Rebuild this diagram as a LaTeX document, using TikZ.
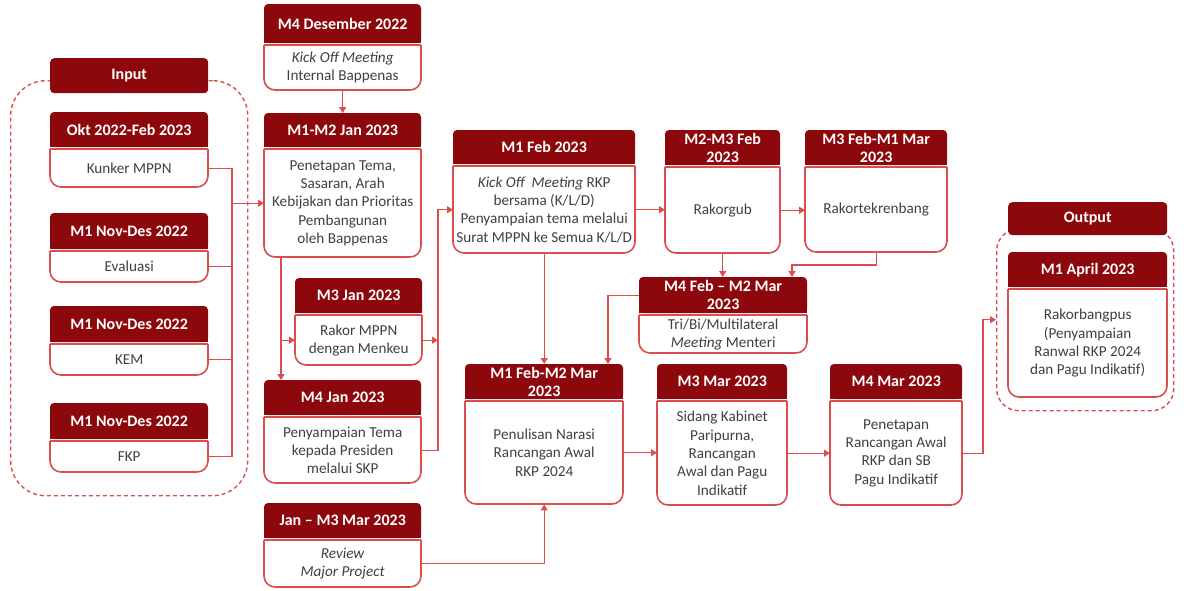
\documentclass[tikz,border=0pt]{standalone}
\usepackage{fontspec}
\setmainfont{Carlito}
\usetikzlibrary{arrows.meta}
\definecolor{hdrred}{RGB}{140,8,12}
\definecolor{lnred}{RGB}{218,78,78}
\definecolor{txtgray}{RGB}{64,64,64}
\tikzset{
  hdrtxt/.style={inner sep=0pt, align=center, text=white,
    font=\fontsize{16}{18.3}\selectfont\bfseries},
  bodytxt/.style={inner sep=0pt, align=center, text=txtgray,
    font=\fontsize{15.2}{18.3}\selectfont},
  bodyline/.style={draw=lnred, line width=1.6pt},
  conn/.style={draw=lnred, line width=1.2pt},
  arr/.style={conn, -{Triangle[width=7pt,length=6pt]}},
  grp/.style={draw=lnred, line width=1.4pt, dash pattern=on 4pt off 3pt, inner sep=0pt},
}
% \stagebox{name}{left x}{width}{header top}{header bottom}{body bottom}{header}{body}
\newcommand{\stagebox}[8]{%
  \pgfmathsetmacro\sbR{#2+#3}%
  \pgfmathsetmacro\sbM{(#4+#5)/2}%
  \pgfmathsetmacro\sbT{#5+2}%
  \pgfmathsetlengthmacro\sbW{#3}%
  \pgfmathsetlengthmacro\sbHH{#5-#4}%
  \pgfmathsetlengthmacro\sbBH{#6-#5-2}%
  \fill[hdrred, rounded corners=4pt] (#2,#4) rectangle (\sbR,#5);
  \fill[hdrred] (#2,\sbM) rectangle (\sbR,#5);
  \draw[bodyline, rounded corners=11pt] (#2,\sbT) -- (#2,#6) -- (\sbR,#6) -- (\sbR,\sbT);
  \draw[bodyline] (#2,\sbT) -- (\sbR,\sbT);
  \node[hdrtxt, anchor=north west, minimum width=\sbW, minimum height=\sbHH]
    (#1h) at (#2,#4) {#7};
  \node[bodytxt, anchor=north west, minimum width=\sbW, minimum height=\sbBH]
    (#1b) at (#2,\sbT) {#8};
}
\begin{document}
\begin{tikzpicture}[x=1pt,y=-1pt]
\useasboundingbox (0,0) rectangle (1184,590);
\fill[white] (0,0) rectangle (1184,590);

% dashed groups
\node[grp, rounded corners=35pt, anchor=north west, minimum width=237pt,
  minimum height=415pt] (ingrp) at (10,80) {};
\node[grp, rounded corners=22pt, anchor=north west, minimum width=177pt,
  minimum height=182pt] (outgrp) at (996,228) {};
\node[hdrtxt, fill=hdrred, rounded corners=4pt, anchor=north west,
  minimum width=158pt, minimum height=35pt] (inputh) at (50,58) {Input};
\node[hdrtxt, fill=hdrred, rounded corners=4pt, anchor=north west,
  minimum width=159pt, minimum height=33pt] (outputh) at (1008,202) {Output};

% input column
\stagebox{kunker}{50}{158}{112}{147}{187}{Okt 2022-Feb 2023}{Kunker MPPN}
\stagebox{eval}{50}{158}{213}{249}{282}{M1 Nov-Des 2022}{Evaluasi}
\stagebox{kem}{50}{158}{306}{342}{375}{M1 Nov-Des 2022}{KEM}
\stagebox{fkp}{50}{158}{403}{439}{472}{M1 Nov-Des 2022}{FKP}

% second column
\stagebox{kom}{264}{157}{4}{43}{90}{M4 Desember 2022}{\textit{Kick Off Meeting}\\Internal Bappenas}
\stagebox{tema}{264}{157}{113}{147}{257}{M1-M2 Jan 2023}{Penetapan Tema,\\Sasaran, Arah\\Kebijakan dan Prioritas\\Pembangunan\\oleh Bappenas}
\stagebox{rakor}{295}{127}{278}{313}{365}{M3 Jan 2023}{Rakor MPPN\\dengan Menkeu}
\stagebox{skp}{264}{157}{380}{415}{483}{M4 Jan 2023}{Penyampaian Tema\\kepada Presiden\\melalui SKP}
\stagebox{review}{264}{157}{503}{538}{587}{Jan -- M3 Mar 2023}{\textit{Review}\\\textit{Major Project}}

% upper row
\stagebox{kick}{453}{182}{130}{164}{253}{M1 Feb 2023}{\textit{Kick Off\ \ Meeting} RKP\\bersama (K/L/D)\\Penyampaian tema melalui\\Surat MPPN ke Semua K/L/D}
\stagebox{rgub}{665}{115}{130}{165}{253}{M2-M3 Feb\\2023}{Rakorgub}
\stagebox{rtek}{805}{142}{130}{165}{252}{M3 Feb-M1 Mar\\2023}{Rakortekrenbang}
\stagebox{tri}{639}{168}{277}{313}{353}{M4 Feb -- M2 Mar\\2023}{Tri/Bi/Multilateral\\\textit{Meeting} Menteri}

% lower row
\stagebox{nar}{465}{158}{364}{399}{504}{M1 Feb-M2 Mar\\2023}{Penulisan Narasi\\Rancangan Awal\\RKP 2024}
\stagebox{sid}{657}{130}{364}{399}{505}{M3 Mar 2023}{Sidang Kabinet\\Paripurna,\\Rancangan\\Awal dan Pagu\\Indikatif}
\stagebox{pen}{830}{132}{364}{399}{505}{M4 Mar 2023}{Penetapan\\Rancangan Awal\\RKP dan SB\\Pagu Indikatif}
\stagebox{apr}{1008}{159}{252}{287}{397}{M1 April 2023}{Rakorbangpus\\(Penyampaian\\Ranwal RKP 2024\\dan Pagu Indikatif)}

% routing columns
\coordinate (bus) at (232,0);
\coordinate (vtwo) at (438,0);
\coordinate (tdrop) at (281,257);
\coordinate (rbend) at (792,265);
\coordinate (tbend) at (608,0);
\coordinate (obend) at (983,0);

% input bus
\draw[conn] (kunkerb.east) -- (kunkerb.east -| bus) -- (fkpb.east -| bus) -- (fkpb.east);
\draw[conn] (evalb.east) -- (evalb.east -| bus);
\draw[conn] (kemb.east) -- (kemb.east -| bus);
\draw[arr] (bus |- temab.west) -- (temab.west);

% second column flow
\draw[arr] (komb.south) -- (temah.north);
\draw[arr] (tdrop) -- (tdrop |- skph.north);
\draw[arr] (tdrop |- rakorb.west) -- (rakorb.west);
\draw[arr] (rakorb.east) -- (rakorb.east -| vtwo);
\draw[arr] (skpb.east) -- (skpb.east -| vtwo) -- (vtwo |- kickb.west) -- (kickb.west);

% upper row flow
\draw[arr] (kickb.east) -- (kickb.east -| rgubb.west);
\draw[arr] (rgubb.east) -- (rgubb.east -| rtekb.west);
\draw[arr] (rgubb.south) -- (rgubb.south |- trih.north);
\draw[arr] (rtekb.south) |- (rbend) -- (rbend |- trih.north);
\draw[arr] (trih.west) -| (tbend |- narh.north);
\draw[arr] (kickb.south) -- (kickb.south |- narh.north);

% lower row flow
\draw[arr] (reviewb.east) -| (narb.south);
\draw[arr] (narb.east) -- (narb.east -| sidb.west);
\draw[arr] (sidb.east) -- (sidb.east -| penb.west);
\draw[arr] (penb.east) -| (obend |- outgrp.west) -- (outgrp.west);
\end{tikzpicture}
\end{document}
